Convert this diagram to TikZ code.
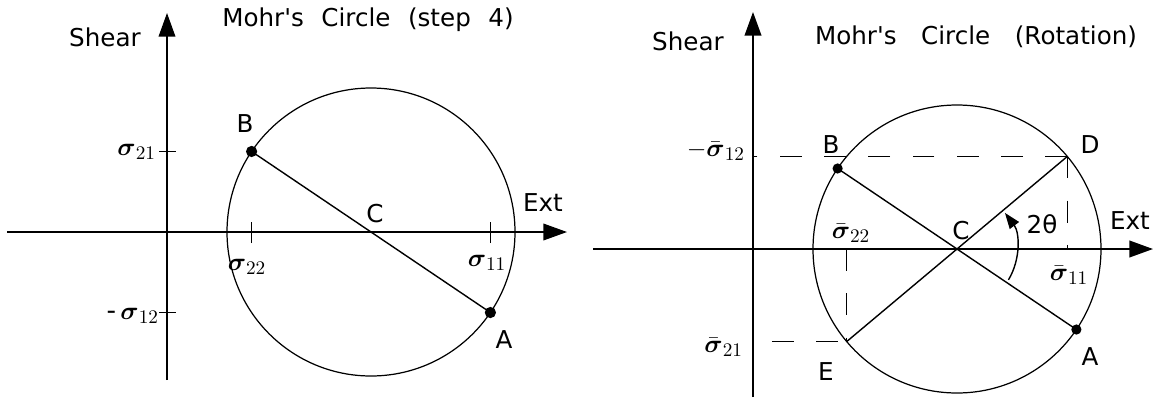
\documentclass[tikz,border=0pt]{standalone}
\usepackage{amsmath}
\usepackage{fontspec}
\setmainfont{DejaVu Sans}[Ligatures=TeXOff]
\usetikzlibrary{arrows.meta,calc}

\tikzset{
  lab/.style={font=\fontsize{14}{16}\selectfont,inner sep=1pt},
  sig/.style={font=\fontsize{15}{17}\selectfont,inner sep=1pt},
  axis/.style={line width=0.9pt,-{Triangle[length=13.5pt,width=9.5pt]}},
  mohr/.style={line width=0.7pt},
  diam/.style={line width=0.8pt},
  guide/.style={line width=0.8pt,dash pattern=on 12.5pt off 12.7pt},
  tickmark/.style={line width=0.8pt},
  dot/.style={circle,fill=black,inner sep=0pt,minimum size=6.4pt},
}
\newcommand{\sg}{\boldsymbol{\sigma}}
\newcommand{\sgb}{\bar{\boldsymbol{\sigma}}}

\begin{document}
\begin{tikzpicture}[x=0.02cm,y=0.02cm]
  \useasboundingbox (0,0) rectangle (1156,397);

  % step 4
  \begin{scope}[shift={(167,165)}]
    \coordinate (O1) at (0,0);
    \coordinate (C1) at (204,0);
    \coordinate (xs1) at (-160,0);
    \coordinate (xe1) at (400,0);
    \coordinate (ys1) at (0,-148);
    \coordinate (ye1) at (0,219);
    \draw[axis] (xs1) -- (xe1);
    \draw[axis] (ys1) -- (ye1);
    \draw[mohr] (C1) circle[radius=144];
    \node[dot] (B1) at ($(C1)+(146:144)$) {};
    \node[dot] (A1) at ($(C1)+(-34:144)$) {};
    \draw[diam] (B1.center) -- (A1.center);
    \draw[tickmark] ($(O1|-B1)+(-8,0)$) -- ($(O1|-B1)+(9,0)$);
    \draw[tickmark] ($(O1|-A1)+(-8,0)$) -- ($(O1|-A1)+(9,0)$);
    \draw[tickmark] ($(B1|-O1)+(0,-11)$) -- ($(B1|-O1)+(0,10)$);
    \draw[tickmark] ($(A1|-O1)+(0,-11)$) -- ($(A1|-O1)+(0,10)$);
    \node[lab] (title1) at (201,212) {Mohr's\hspace{10pt}Circle\hspace{10pt}(step\hspace{10pt}4)};
    \node[lab] (shear1) at (-62,195) {Shear};
    \node[lab] (labB1) at (78,108) {B};
    \node[lab] (labC1) at (208,18) {C};
    \node[lab] (labA1) at (337,-108) {A};
    \node[lab] (ext1) at (376,29) {Ext};
    \node[sig,anchor=east] (s21) at (-9,80) {$\sg_{21}$};
    \node[sig,anchor=east] (s12) at (-6,-84) {-\,$\sg_{12}$};
    \node[sig] (s22) at (80,-35) {$\sg_{22}$};
    \node[sig] (s11) at (320,-31) {$\sg_{11}$};
  \end{scope}

  % rotation
  \begin{scope}[shift={(753,148)}]
    \coordinate (O2) at (0,0);
    \coordinate (C2) at (204,0);
    \coordinate (xs2) at (-160,0);
    \coordinate (xe2) at (400,0);
    \coordinate (ys2) at (0,-148);
    \coordinate (ye2) at (0,237);
    \draw[axis,line width=1.1pt] (xs2) -- (xe2);
    \draw[axis,line width=1.1pt] (ys2) -- (ye2);
    \draw[mohr] (C2) circle[radius=144];
    \coordinate (D2) at ($(C2)+(40:144)$);
    \coordinate (E2) at ($(C2)+(220:144)$);
    \node[dot,minimum size=5.8pt] (B2) at ($(C2)+(146:144)$) {};
    \node[dot,minimum size=5.8pt] (A2) at ($(C2)+(-34:144)$) {};
    \draw[diam] (B2.center) -- (A2.center);
    \draw[diam] (E2) -- (D2);
    \draw[guide] (D2) -- (O2|-D2);
    \draw[guide] (D2) -- (D2|-O2);
    \draw[guide] (E2|-O2) -- (E2);
    \draw[guide,dash phase=14.5pt] (O2|-E2) -- (E2);
    \draw[line width=0.8pt,-{Triangle[length=9pt,width=6.5pt]}]
      ($(C2)+(-31:60)$) arc[start angle=-31,end angle=37,radius=60];
    \node[lab] (title2) at (223,212) {Mohr's\hspace{14pt}Circle\hspace{14pt}(Rotation)};
    \node[lab] (shear2) at (-65,208) {Shear};
    \node[lab] (labB2) at (78,104) {B};
    \node[lab] (labD2) at (337,104) {D};
    \node[lab] (labC2) at (208,18) {C};
    \node[lab] (ang2) at (289,25) {2θ};
    \node[lab] (ext2) at (377,28) {Ext};
    \node[lab] (labA2) at (337,-108) {A};
    \node[lab] (labE2) at (73,-123) {E};
    \node[sig,anchor=east] (sb12) at (-6,98) {$-\sgb_{12}$};
    \node[sig,anchor=east] (sb21) at (-8,-98) {$\sgb_{21}$};
    \node[sig] (sb22) at (98,16) {$\sgb_{22}$};
    \node[sig] (sb11) at (316,-26) {$\sgb_{11}$};
  \end{scope}
\end{tikzpicture}
\end{document}
